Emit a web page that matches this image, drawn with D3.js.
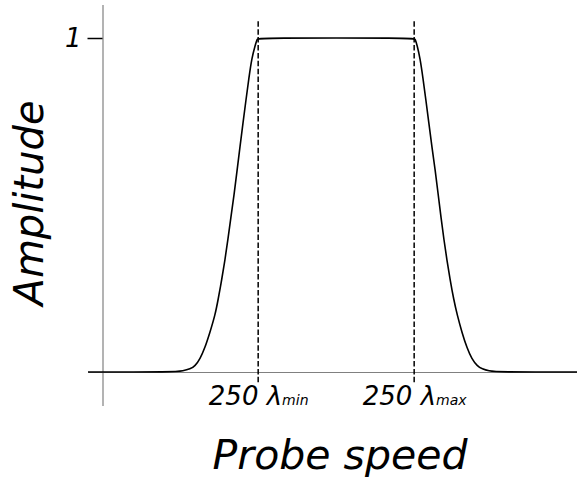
<!DOCTYPE html>
<html>
<head>
<meta charset="utf-8">
<script src="https://cdn.jsdelivr.net/npm/d3@7"></script>
<style>
  body { margin: 0; background: #fff; }
  text { font-family: "DejaVu Sans", sans-serif; font-style: italic; }
</style>
</head>
<body>
<svg id="chart"></svg>
<script>
// probe speed (0..1 of the drawn range) and amplitude
const speed = [0, 0.178, 0.194, 0.209, 0.219, 0.229, 0.239, 0.249, 0.260, 0.266, 0.274, 0.280,
  0.286, 0.292, 0.299, 0.305, 0.311, 0.317, 0.323, 0.329, 0.335, 0.342, 0.346, 0.348,
  0.667, 0.669, 0.673, 0.679, 0.685, 0.691, 0.697, 0.703, 0.710, 0.716, 0.722, 0.728,
  0.734, 0.740, 0.748, 0.755, 0.765, 0.775, 0.785, 0.796, 0.806, 0.820, 0.836, 1];
const amplitude = [0, 0, 0.003, 0.009, 0.018, 0.039, 0.072, 0.117, 0.171, 0.216, 0.281, 0.335,
  0.395, 0.461, 0.533, 0.605, 0.677, 0.746, 0.814, 0.880, 0.940, 0.979, 0.997, 1,
  1, 0.997, 0.979, 0.940, 0.880, 0.814, 0.746, 0.677, 0.605, 0.533, 0.461, 0.395,
  0.335, 0.281, 0.216, 0.171, 0.117, 0.072, 0.039, 0.018, 0.009, 0.003, 0, 0];
const lambdas = [0.348, 0.667];
const lambdaLabels = [['250 λ', 'min'], ['250 λ', 'max']];
const yTicks = [1];

const width = 577, height = 478;
const svg = d3.select('#chart').attr('width', width).attr('height', height);

const x = d3.scaleLinear().domain([0, 1]).range([88, 577]);
const y = d3.scaleLinear().domain([-0.1, 1.1]).range([405.4, 4.6]);
const axisX = 102.5;

// x axis
const gx = svg.append('g')
  .attr('transform', `translate(0,${y(0)})`)
  .call(d3.axisBottom(x).tickValues(lambdas).tickSize(0).tickSizeOuter(0).tickPadding(15).tickFormat(''));
gx.select('.domain').attr('stroke', '#808080').attr('stroke-width', 1.2);
gx.selectAll('.tick text')
  .attr('font-size', 26)
  .attr('fill', '#000')
  .each(function (d, i) {
    const t = d3.select(this);
    t.append('tspan').text(lambdaLabels[i][0]);
    t.append('tspan').attr('font-size', 14).text(lambdaLabels[i][1]);
  });

// y axis
const gy = svg.append('g')
  .attr('transform', `translate(${axisX},0)`)
  .call(d3.axisLeft(y).tickValues(yTicks).tickSize(15).tickSizeOuter(0).tickPadding(6).tickFormat(d3.format('d')));
gy.select('.domain').attr('stroke', '#808080').attr('stroke-width', 1.2);
gy.selectAll('.tick line').attr('stroke', '#000').attr('stroke-width', 1.5);
gy.selectAll('.tick text').attr('font-size', 26).attr('fill', '#000');

// dashed markers at lambda min / max
svg.selectAll('.marker')
  .data(lambdas)
  .enter()
  .append('line')
  .attr('class', 'marker')
  .attr('x1', d => x(d))
  .attr('x2', d => x(d))
  .attr('y1', y(1.05))
  .attr('y2', y(-0.036))
  .attr('stroke', '#000')
  .attr('stroke-width', 1.5)
  .attr('stroke-dasharray', '5.5,2.4');

// curve
const line = d3.line()
  .x(d => x(d[0]))
  .y(d => y(d[1]))
  .curve(d3.curveBasis);
svg.append('path')
  .datum(speed.map((s, i) => [s, amplitude[i]]))
  .attr('fill', 'none')
  .attr('stroke', '#000')
  .attr('stroke-width', 1.6)
  .attr('d', line);

// axis titles
svg.append('text')
  .attr('x', 340)
  .attr('y', 469)
  .attr('text-anchor', 'middle')
  .attr('font-size', 41)
  .text('Probe speed');

svg.append('text')
  .attr('transform', 'translate(43,203) rotate(-90)')
  .attr('text-anchor', 'middle')
  .attr('font-size', 40)
  .text('Amplitude');
</script>
</body>
</html>
